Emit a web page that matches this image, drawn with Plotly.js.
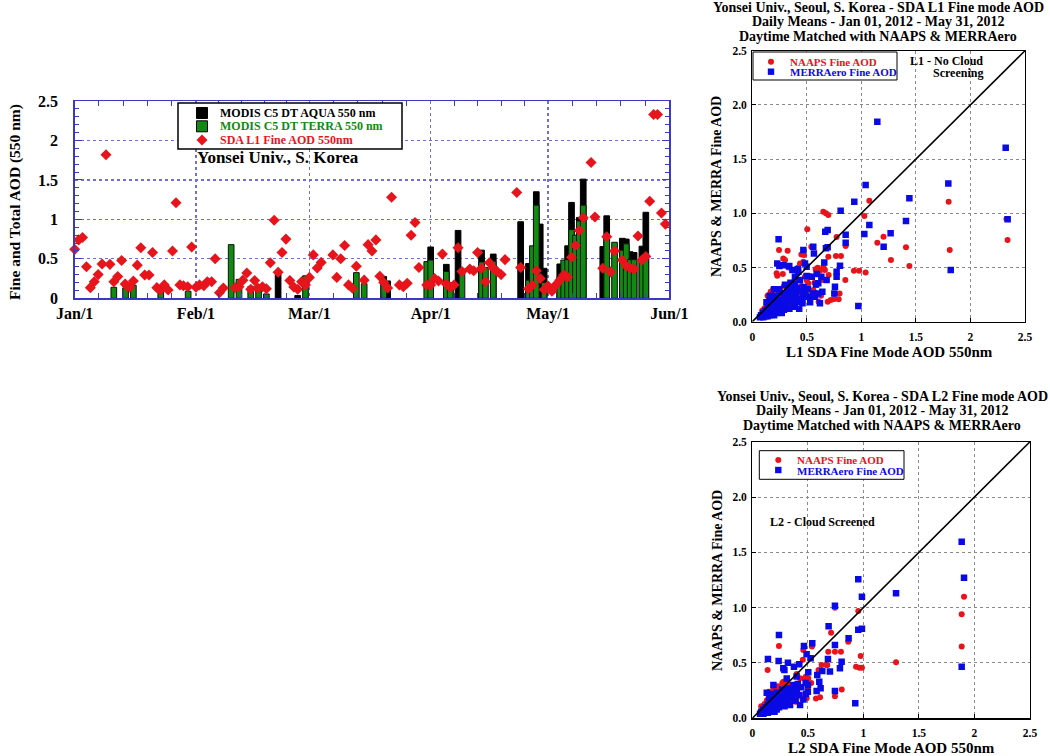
<!DOCTYPE html>
<html>
<head>
<meta charset="utf-8">
<script src="https://cdn.plot.ly/plotly-3.0.1.min.js"></script>
<style>html,body{margin:0;padding:0;background:#fff;}#chart{width:1050px;height:756px;}</style>
</head>
<body>
<div id="chart"></div>
<script>
// ---------- Time series (left panel): day index from Jan 1, 2012 ----------
const monthStarts = [0, 31, 60, 91, 121, 152];
const monthLabels = ['Jan/1', 'Feb/1', 'Mar/1', 'Apr/1', 'May/1', 'Jun/1'];
const yTickVals = [0, 0.5, 1, 1.5, 2, 2.5];
const yTickText = ['0', '0.5', '1', '1.5', '2', '2.5'];

const aquaDay = [52, 57, 79, 80, 91, 95, 96, 98, 104, 107, 114, 116, 118, 119, 120, 124, 126, 127, 129, 130, 135, 136, 140, 141, 142, 143, 145, 146];
const aquaVal = [0.34, 0.035, 0.275, 0.22, 0.65, 0.43, 0.2, 0.86, 0.61, 0.56, 0.97, 0.44, 1.35, 0.94, 0.38, 0.435, 0.665, 1.215, 1.025, 1.51, 0.655, 1.045, 0.76, 0.75, 0.59, 0.58, 0.66, 1.09];

const terraDay = [10, 13, 15, 22, 29, 40, 42, 45, 47, 49, 59, 72, 74, 79, 90, 91, 95, 96, 99, 104, 105, 107, 116, 117, 118, 120, 124, 125, 126, 127, 128, 129, 130, 136, 138, 140, 141, 142, 143, 145, 146];
const terraVal = [0.14, 0.13, 0.165, 0.10, 0.09, 0.68, 0.24, 0.15, 0.15, 0.055, 0.285, 0.325, 0.185, 0.21, 0.465, 0.485, 0.34, 0.12, 0.37, 0.46, 0.39, 0.47, 0.23, 0.665, 1.18, 0.2, 0.27, 0.485, 0.49, 0.87, 0.80, 0.98, 1.18, 0.76, 0.71, 0.61, 0.69, 0.49, 0.49, 0.49, 0.5];

const sdaDay = [0, 1, 2, 3, 4, 5, 6, 7, 8, 9, 10, 11, 12, 12.9, 13.5, 14.1, 15, 16, 16.9, 17.9, 19, 19.9, 21, 21.9, 22.9, 23.9, 25, 25.9, 26.9, 27.8, 28.9, 29.9, 31, 31.9, 33, 33.9, 35, 35.9, 37, 38, 41, 42, 43, 44, 45, 46, 46.8, 48, 49, 50, 51, 52, 53, 54, 55, 56, 57, 58, 59, 60, 61, 62, 63, 66, 67, 68, 69, 70, 71, 72, 74, 75, 76, 77, 78, 79, 80, 81, 83, 84, 85, 86, 87, 88, 90, 91, 92, 93, 94, 95, 96, 97, 98, 99, 101, 102, 103, 104, 105, 106, 107, 108, 109, 110, 113, 114, 116, 117, 118, 119, 120, 121, 122, 123, 124, 125, 126, 127, 128, 129, 130, 132, 133, 135, 136, 137, 138, 140, 141, 142, 143, 144, 145, 146, 147, 148, 149, 150, 151];
const sdaVal = [0.62, 0.74, 0.77, 0.40, 0.135, 0.21, 0.30, 0.435, 1.82, 0.43, 0.21, 0.275, 0.48, 0.18, 0.147, 0.14, 0.22, 0.42, 0.64, 0.295, 0.295, 0.58, 0.135, 0.105, 0.17, 0.105, 0.60, 1.21, 0.17, 0.16, 0.147, 0.65, 0.14, 0.17, 0.16, 0.21, 0.21, 0.50, 0.07, 0.13, 0.135, 0.147, 0.23, 0.32, 0.115, 0.225, 0.13, 0.147, 0.12, 0.45, 0.99, 0.33, 0.58, 0.75, 0.225, 0.143, 0.115, 0.21, 0.17, 0.265, 0.55, 0.385, 0.455, 0.55, 0.265, 0.50, 0.67, 0.17, 0.127, 0.405, 0.23, 0.68, 0.60, 0.74, 0.28, 0.20, 0.13, 1.28, 0.17, 0.147, 0.19, 0.80, 0.96, 0.39, 0.17, 0.17, 0.25, 0.22, 0.56, 0.18, 0.14, 0.17, 0.64, 0.34, 0.37, 0.35, 0.58, 0.38, 0.21, 0.45, 0.38, 0.34, 0.30, 0.49, 1.34, 0.39, 0.12, 0.165, 0.35, 0.25, 0.11, 0.155, 0.09, 0.17, 0.23, 0.295, 0.27, 0.52, 0.67, 0.86, 1.02, 1.72, 1.03, 0.38, 0.78, 0.335, 0.60, 0.485, 0.41, 0.385, 0.37, 0.79, 0.485, 0.53, 1.23, 2.33, 2.33, 1.08, 0.94];

// ---------- Scatter panels ----------
const sTickVals = [0, 0.5, 1, 1.5, 2, 2.5];
const sTickTextX = ['0', '0.5', '1', '1.5', '2', '2.5'];
const sTickTextY = ['0.0', '0.5', '1.0', '1.5', '2.0', '2.5'];

// L1 (top) NAAPS
const l1NaapsX = [1.80, 1.81, 2.33, 2.34, 1.073, 1.027, 1.146, 1.203, 1.271, 1.409, 1.44, 0.932, 0.979, 1.039, 0.853, 0.856, 0.773, 0.767, 0.813, 0.80, 0.752, 0.792, 0.697, 0.651, 0.675, 0.697, 0.504, 0.245, 0.324, 0.284, 0.223, 0.229, 0.437, 0.474, 0.541, 0.599, 0.587, 0.608, 0.681, 0.691, 0.651, 0.666, 0.168, 0.468, 0.581, 0.651, 0.56, 0.514, 0.483, 0.422, 0.392, 0.223, 0.178, 0.12, 0.08, 0.09, 0.10, 0.11, 0.12, 0.13, 0.14, 0.15, 0.15, 0.16, 0.17, 0.18, 0.19, 0.20, 0.20, 0.21, 0.22, 0.23, 0.24, 0.25, 0.26, 0.27, 0.28, 0.29, 0.30, 0.31, 0.32, 0.33, 0.34, 0.35, 0.36, 0.37, 0.38, 0.40, 0.41, 0.43, 0.45, 0.46, 0.48, 0.50, 0.52, 0.55, 0.28, 0.33, 0.30, 0.42, 0.45, 0.53, 0.57, 0.62, 0.70, 0.72, 0.63, 0.19, 0.14];
const l1NaapsY = [1.107, 0.661, 0.947, 0.753, 1.116, 0.975, 0.729, 0.784, 0.569, 0.686, 0.514, 0.47, 0.47, 0.455, 0.384, 0.698, 0.781, 0.606, 0.606, 0.26, 0.209, 0.206, 0.60, 1.015, 1.0, 0.984, 0.852, 0.661, 0.655, 0.584, 0.446, 0.424, 0.538, 0.615, 0.692, 0.498, 0.338, 0.185, 0.384, 0.185, 0.507, 0.477, 0.277, 0.553, 0.483, 0.384, 0.292, 0.353, 0.415, 0.384, 0.323, 0.23, 0.261, 0.108, 0.06, 0.10, 0.05, 0.12, 0.07, 0.15, 0.09, 0.20, 0.06, 0.12, 0.08, 0.17, 0.11, 0.22, 0.07, 0.14, 0.10, 0.19, 0.28, 0.13, 0.09, 0.21, 0.16, 0.33, 0.12, 0.25, 0.19, 0.29, 0.15, 0.22, 0.36, 0.18, 0.27, 0.31, 0.20, 0.26, 0.33, 0.18, 0.24, 0.38, 0.22, 0.27, 0.44, 0.50, 0.57, 0.50, 0.62, 0.42, 0.36, 0.47, 0.43, 0.20, 0.24, 0.30, 0.24];
// L1 (top) MERRAero
const l1MerraX = [1.146, 2.323, 1.797, 1.039, 0.935, 0.81, 1.44, 1.409, 1.073, 1.027, 1.268, 1.204, 2.341, 1.819, 0.972, 0.856, 0.856, 0.804, 0.773, 0.773, 0.758, 0.752, 0.691, 0.669, 0.675, 0.691, 0.681, 0.66, 0.559, 0.565, 0.468, 0.498, 0.241, 0.229, 0.248, 0.284, 0.339, 0.367, 0.391, 0.422, 0.498, 0.59, 0.605, 0.633, 0.529, 0.605, 0.642, 0.416, 0.483, 0.584, 0.545, 0.575, 0.483, 0.468, 0.437, 0.392, 0.398, 0.361, 0.33, 0.30, 0.285, 0.385, 0.407, 0.07, 0.08, 0.09, 0.10, 0.10, 0.11, 0.12, 0.12, 0.13, 0.14, 0.14, 0.15, 0.15, 0.16, 0.16, 0.17, 0.17, 0.18, 0.18, 0.19, 0.20, 0.20, 0.21, 0.22, 0.22, 0.23, 0.24, 0.25, 0.26, 0.27, 0.27, 0.28, 0.29, 0.30, 0.31, 0.32, 0.33, 0.34, 0.35, 0.36, 0.37, 0.38, 0.39, 0.40, 0.41, 0.42, 0.43, 0.44, 0.46, 0.47, 0.49, 0.51, 0.53, 0.56, 0.13, 0.16, 0.19, 0.25, 0.30, 0.35, 0.62, 0.20];
const l1MerraY = [1.845, 1.605, 1.276, 1.261, 1.107, 1.024, 1.138, 0.929, 0.892, 0.809, 0.815, 0.692, 0.944, 0.477, 0.145, 0.803, 0.729, 0.517, 0.461, 0.415, 0.323, 0.261, 0.846, 0.83, 0.677, 0.686, 0.384, 0.547, 0.692, 0.63, 0.661, 0.507, 0.76, 0.538, 0.514, 0.52, 0.514, 0.477, 0.415, 0.461, 0.421, 0.44, 0.354, 0.415, 0.231, 0.261, 0.277, 0.483, 0.538, 0.344, 0.415, 0.231, 0.277, 0.231, 0.384, 0.353, 0.215, 0.292, 0.307, 0.261, 0.184, 0.138, 0.184, 0.04, 0.06, 0.05, 0.08, 0.04, 0.06, 0.10, 0.05, 0.07, 0.12, 0.05, 0.08, 0.16, 0.06, 0.11, 0.09, 0.20, 0.07, 0.14, 0.10, 0.06, 0.18, 0.12, 0.08, 0.24, 0.15, 0.10, 0.20, 0.13, 0.08, 0.26, 0.17, 0.11, 0.22, 0.15, 0.27, 0.20, 0.12, 0.25, 0.18, 0.30, 0.22, 0.16, 0.26, 0.31, 0.21, 0.12, 0.28, 0.17, 0.32, 0.24, 0.30, 0.18, 0.26, 0.18, 0.24, 0.22, 0.30, 0.34, 0.36, 0.17, 0.30];

// L2 (bottom) NAAPS
const l2NaapsX = [1.906, 1.885, 1.885, 1.294, 0.954, 0.976, 0.987, 0.934, 0.964, 0.744, 0.709, 0.744, 0.798, 0.684, 0.864, 0.675, 0.744, 0.805, 0.24, 0.138, 0.537, 0.459, 0.429, 0.483, 0.504, 0.573, 0.61, 0.489, 0.624, 0.405, 0.596, 0.669, 0.455, 0.30, 0.27, 0.33, 0.36, 0.40, 0.44, 0.08, 0.09, 0.10, 0.11, 0.12, 0.13, 0.14, 0.15, 0.16, 0.17, 0.18, 0.19, 0.20, 0.21, 0.22, 0.23, 0.24, 0.25, 0.26, 0.27, 0.28, 0.29, 0.30, 0.31, 0.32, 0.33, 0.34, 0.35, 0.36, 0.38, 0.39, 0.41, 0.43, 0.45, 0.47, 0.50, 0.53, 0.15, 0.19, 0.23, 0.28, 0.34];
const l2NaapsY = [1.099, 0.94, 0.648, 0.506, 0.97, 0.563, 0.458, 0.467, 0.458, 1.0, 0.774, 0.602, 0.602, 0.602, 0.693, 0.482, 0.2, 0.261, 0.654, 0.437, 0.648, 0.617, 0.361, 0.377, 0.361, 0.18, 0.19, 0.181, 0.482, 0.301, 0.437, 0.482, 0.53, 0.33, 0.32, 0.30, 0.18, 0.40, 0.21, 0.11, 0.06, 0.09, 0.13, 0.07, 0.16, 0.10, 0.21, 0.08, 0.14, 0.19, 0.11, 0.24, 0.15, 0.09, 0.20, 0.26, 0.13, 0.22, 0.17, 0.31, 0.12, 0.25, 0.19, 0.28, 0.16, 0.23, 0.30, 0.20, 0.26, 0.15, 0.22, 0.28, 0.18, 0.36, 0.26, 0.32, 0.24, 0.27, 0.29, 0.33, 0.21];
// L2 (bottom) MERRAero
const l2MerraX = [1.885, 1.906, 1.294, 0.954, 0.987, 0.744, 0.687, 0.954, 0.987, 0.867, 0.744, 0.804, 0.789, 0.699, 0.681, 0.744, 1.885, 0.927, 0.24, 0.141, 0.237, 0.321, 0.279, 0.375, 0.399, 0.423, 0.465, 0.489, 0.54, 0.525, 0.504, 0.585, 0.603, 0.63, 0.579, 0.615, 0.501, 0.483, 0.289, 0.07, 0.08, 0.09, 0.10, 0.10, 0.11, 0.12, 0.12, 0.13, 0.14, 0.14, 0.15, 0.15, 0.16, 0.16, 0.17, 0.17, 0.18, 0.18, 0.19, 0.20, 0.20, 0.21, 0.22, 0.22, 0.23, 0.24, 0.25, 0.26, 0.27, 0.28, 0.29, 0.30, 0.31, 0.32, 0.33, 0.34, 0.35, 0.36, 0.37, 0.38, 0.39, 0.40, 0.41, 0.42, 0.43, 0.44, 0.46, 0.48, 0.50, 0.13, 0.16, 0.19, 0.21, 0.31];
const l2MerraY = [1.596, 1.271, 1.13, 1.256, 1.099, 1.018, 0.831, 0.801, 0.81, 0.723, 0.663, 0.512, 0.452, 0.422, 0.536, 0.247, 0.467, 0.136, 0.753, 0.536, 0.518, 0.503, 0.452, 0.467, 0.377, 0.488, 0.654, 0.578, 0.678, 0.542, 0.416, 0.392, 0.331, 0.428, 0.247, 0.271, 0.301, 0.22, 0.437, 0.04, 0.06, 0.05, 0.08, 0.04, 0.06, 0.10, 0.05, 0.07, 0.12, 0.05, 0.08, 0.17, 0.06, 0.11, 0.09, 0.21, 0.07, 0.14, 0.10, 0.06, 0.18, 0.12, 0.08, 0.23, 0.15, 0.10, 0.20, 0.13, 0.26, 0.17, 0.11, 0.22, 0.15, 0.27, 0.20, 0.12, 0.25, 0.18, 0.30, 0.22, 0.16, 0.26, 0.31, 0.21, 0.12, 0.28, 0.17, 0.32, 0.24, 0.23, 0.22, 0.30, 0.20, 0.36];

// ---------- Styling constants ----------
const W = 1050, H = 756;
const px = v => v / W;
const py = v => 1 - v / H;
const SERIF = 'Liberation Serif, Times New Roman, serif';
const RED = '#e8141b';
const BLUE = '#0a0ae6';
const GREEN = '#108a10';
const AXBLUE = '#3a3ac0';
const GRIDBLUE = '#7070d0';

// minor ticks: each month split in five
const minorX = [];
for (let i = 0; i < monthStarts.length - 1; i++) {
  const a = monthStarts[i], b = monthStarts[i + 1];
  for (let k = 1; k < 5; k++) minorX.push(a + (b - a) * k / 5);
}

const traces = [
  { type: 'bar', x: aquaDay, y: aquaVal, width: 1.45, xaxis: 'x', yaxis: 'y',
    marker: { color: '#000000', line: { color: '#000000', width: 1 } }, name: 'AQUA', showlegend: false },
  { type: 'bar', x: terraDay, y: terraVal, width: 1.45, xaxis: 'x', yaxis: 'y',
    marker: { color: GREEN, line: { color: '#111111', width: 1 } }, name: 'TERRA', showlegend: false },
  { type: 'scatter', mode: 'markers', x: sdaDay, y: sdaVal, xaxis: 'x', yaxis: 'y',
    marker: { symbol: 'diamond', size: 8.5, color: RED, line: { width: 0 } }, name: 'SDA', showlegend: false, cliponaxis: false },

  { type: 'scatter', mode: 'markers', x: l1NaapsX, y: l1NaapsY, xaxis: 'x2', yaxis: 'y2',
    marker: { symbol: 'circle', size: 6, color: RED }, showlegend: false },
  { type: 'scatter', mode: 'markers', x: l1MerraX, y: l1MerraY, xaxis: 'x2', yaxis: 'y2',
    marker: { symbol: 'square', size: 6.5, color: BLUE }, showlegend: false },

  { type: 'scatter', mode: 'markers', x: l2NaapsX, y: l2NaapsY, xaxis: 'x3', yaxis: 'y3',
    marker: { symbol: 'circle', size: 6, color: RED }, showlegend: false },
  { type: 'scatter', mode: 'markers', x: l2MerraX, y: l2MerraY, xaxis: 'x3', yaxis: 'y3',
    marker: { symbol: 'square', size: 6.5, color: BLUE }, showlegend: false }
];

function scatterX(anchor, dom) {
  return { domain: dom, anchor: anchor, range: [0, 2.5], tickvals: sTickVals, ticktext: sTickTextX,
    showline: true, mirror: true, linecolor: '#000', linewidth: 1.2, ticks: 'inside', ticklen: 4, tickcolor: '#000',
    showgrid: true, gridcolor: '#8a8a8a', griddash: 'dot', gridwidth: 1, zeroline: false,
    tickfont: { family: SERIF, size: 11.5, color: '#000', weight: 'bold' }, ticklabelstandoff: 4 };
}
function scatterY(anchor, dom) {
  return { domain: dom, anchor: anchor, range: [0, 2.5], tickvals: sTickVals, ticktext: sTickTextY,
    showline: true, mirror: true, linecolor: '#000', linewidth: 1.2, ticks: 'inside', ticklen: 4, tickcolor: '#000',
    showgrid: true, gridcolor: '#8a8a8a', griddash: 'dot', gridwidth: 1, zeroline: false,
    tickfont: { family: SERIF, size: 11.5, color: '#000', weight: 'bold' }, ticklabelstandoff: 2 };
}

function ann(text, x, y, size, opts) {
  return Object.assign({ text: '<b>' + text + '</b>', x: px(x), y: py(y), xref: 'paper', yref: 'paper',
    showarrow: false, xanchor: 'center', yanchor: 'middle',
    font: { family: SERIF, size: size, color: '#000' } }, opts || {});
}

const annotations = [
  ann('Fine and Total AOD (550 nm)', 15, 202, 15.5, { textangle: -90 }),
  ann('Yonsei Univ., S. Korea', 195, 158, 17, { xanchor: 'left' }),
  ann('MODIS C5 DT AQUA 550 nm', 219, 112.5, 12, { xanchor: 'left', borderpad: 0 }),
  ann('MODIS C5 DT TERRA 550 nm', 219, 126.3, 12, { xanchor: 'left', borderpad: 0, font: { family: SERIF, size: 12, color: GREEN } }),
  ann('SDA L1 Fine AOD 550nm', 219, 140.1, 12, { xanchor: 'left', borderpad: 0, font: { family: SERIF, size: 12, color: RED } }),

  ann('Yonsei Univ., Seoul, S. Korea - SDA L1 Fine mode AOD', 878, 7.5, 14),
  ann('Daily Means - Jan 01, 2012 - May 31, 2012', 878, 21.5, 14),
  ann('Daytime Matched with NAAPS &amp; MERRAero', 878, 36, 14),
  ann('NAAPS Fine AOD', 788, 61.7, 11, { xanchor: 'left', font: { family: SERIF, size: 11, color: RED } }),
  ann('MERRAero Fine AOD', 788, 71.7, 11, { xanchor: 'left', font: { family: SERIF, size: 11, color: BLUE } }),
  ann('L1 - No Cloud', 946, 61, 12),
  ann('Screening', 958, 72.5, 12),
  ann('L1 SDA Fine Mode AOD 550nm', 889, 352, 15),
  ann('NAAPS &amp; MERRA Fine AOD', 717, 187, 14, { textangle: -90 }),

  ann('Yonsei Univ., Seoul, S. Korea - SDA L2 Fine mode AOD', 882, 396.5, 14),
  ann('Daily Means - Jan 01, 2012 - May 31, 2012', 882, 411, 14),
  ann('Daytime Matched with NAAPS &amp; MERRAero', 882, 425.5, 14),
  ann('NAAPS Fine AOD', 794.5, 460, 11, { xanchor: 'left', font: { family: SERIF, size: 11, color: RED } }),
  ann('MERRAero Fine AOD', 794.5, 470.5, 11, { xanchor: 'left', font: { family: SERIF, size: 11, color: BLUE } }),
  ann('L2 - Cloud Screened', 822, 522, 12),
  ann('L2 SDA Fine Mode AOD 550nm', 891, 748, 15),
  ann('NAAPS &amp; MERRA Fine AOD', 717, 581, 14, { textangle: -90 })
];

function rectPx(x0, y0, x1, y1, fill, lineColor, lw) {
  return { type: 'rect', xref: 'paper', yref: 'paper', x0: px(x0), x1: px(x1), y0: py(y1), y1: py(y0),
    fillcolor: fill, line: { color: lineColor, width: lw }, layer: 'above' };
}
function diamondPx(cx, cy, r, color) {
  const p = 'M ' + px(cx - r) + ' ' + py(cy) + ' L ' + px(cx) + ' ' + py(cy - r) + ' L ' + px(cx + r) + ' ' + py(cy) + ' L ' + px(cx) + ' ' + py(cy + r) + ' Z';
  return { type: 'path', xref: 'paper', yref: 'paper', path: p, fillcolor: color, line: { width: 0 }, layer: 'above' };
}
function circlePx(cx, cy, r, color) {
  return { type: 'circle', xref: 'paper', yref: 'paper', x0: px(cx - r), x1: px(cx + r), y0: py(cy + r), y1: py(cy - r),
    fillcolor: color, line: { width: 0 }, layer: 'above' };
}

const shapes = [
  // left legend
  rectPx(178, 103, 402, 149, '#ffffff', '#000000', 1.5),
  rectPx(196.5, 107.5, 207.5, 118.5, '#000000', '#000000', 1),
  rectPx(196.5, 120.8, 207.5, 131.8, GREEN, '#000000', 1),
  diamondPx(202, 140.1, 5.5, RED),
  // top scatter legend
  rectPx(753, 52, 897, 80, '#ffffff', '#000000', 1),
  circlePx(771, 61.7, 3, RED),
  rectPx(767.8, 68.5, 774.2, 74.9, BLUE, BLUE, 0),
  // bottom scatter legend
  rectPx(759.3, 450.7, 904, 479.3, '#ffffff', '#000000', 1),
  circlePx(778.3, 460, 3, RED),
  rectPx(775.1, 466.8, 781.5, 473.2, BLUE, BLUE, 0),
  // 1:1 lines
  { type: 'line', xref: 'x2', yref: 'y2', x0: 0, y0: 0, x1: 2.5, y1: 2.5, line: { color: '#000', width: 1.6 }, layer: 'above' },
  { type: 'line', xref: 'x3', yref: 'y3', x0: 0, y0: 0, x1: 2.5, y1: 2.5, line: { color: '#000', width: 1.6 }, layer: 'above' }
];

const layout = {
  width: W, height: H,
  margin: { l: 0, r: 0, t: 0, b: 0 },
  paper_bgcolor: '#ffffff', plot_bgcolor: '#ffffff',
  showlegend: false,
  barmode: 'overlay',
  xaxis: {
    domain: [px(74.7), px(669.3)], anchor: 'y', range: [0, 152],
    tickvals: monthStarts, ticktext: monthLabels, ticks: '',
    showline: true, mirror: 'ticks', linecolor: AXBLUE, linewidth: 1.5,
    showgrid: true, gridcolor: GRIDBLUE, griddash: 'dot', gridwidth: 1.2, zeroline: false,
    minor: { tickvals: minorX, ticks: 'inside', ticklen: 5, tickcolor: AXBLUE, showgrid: false },
    tickfont: { family: SERIF, size: 16, color: '#000', weight: 'bold' }, ticklabelstandoff: 0
  },
  yaxis: {
    domain: [py(298.3), py(101)], anchor: 'x', range: [0, 2.5],
    tickvals: yTickVals, ticktext: yTickText, ticks: 'inside', ticklen: 7, tickcolor: AXBLUE,
    showline: true, mirror: 'ticks', linecolor: AXBLUE, linewidth: 1.5,
    showgrid: true, gridcolor: GRIDBLUE, griddash: 'dot', gridwidth: 1.2, zeroline: false,
    minor: { dtick: 0.1, ticks: 'inside', ticklen: 4, tickcolor: AXBLUE, showgrid: false },
    tickfont: { family: SERIF, size: 16, color: '#000', weight: 'bold' }, ticklabelstandoff: 12
  },
  xaxis2: scatterX('y2', [px(752.3), px(1025)]),
  yaxis2: scatterY('x2', [py(321.7), py(50.7)]),
  xaxis3: scatterX('y3', [px(752.3), px(1030)]),
  yaxis3: scatterY('x3', [py(718.3), py(441.7)]),
  annotations: annotations,
  shapes: shapes
};

Plotly.newPlot('chart', traces, layout, { displayModeBar: false, staticPlot: true });
</script>
</body>
</html>
